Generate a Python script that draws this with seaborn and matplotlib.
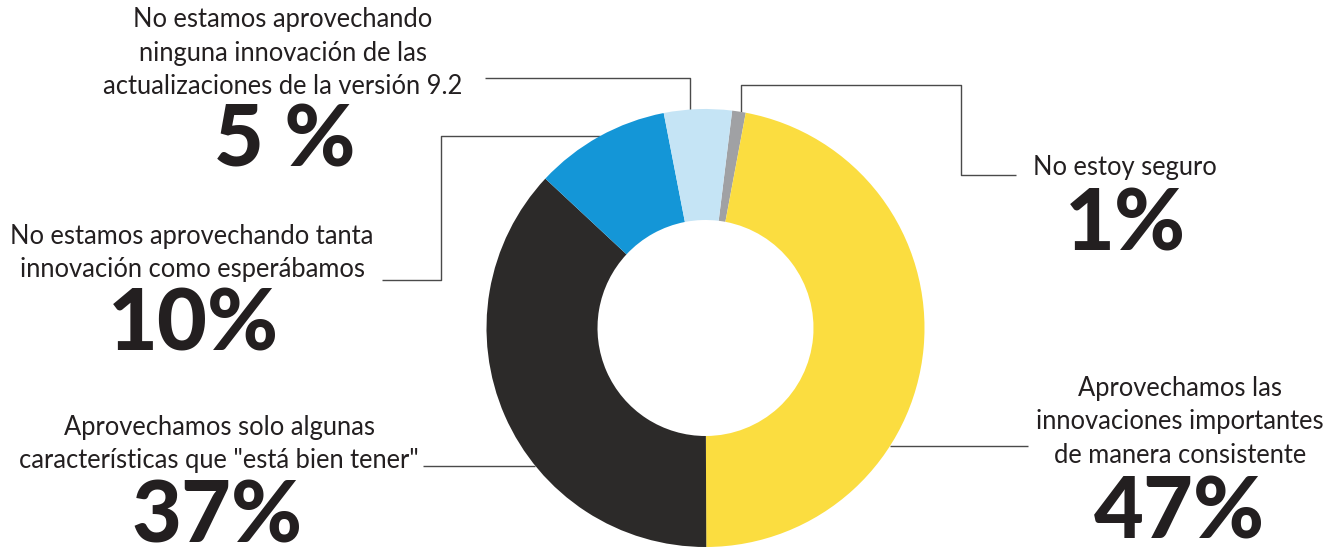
import matplotlib
matplotlib.use("Agg")
import matplotlib.pyplot as plt
import seaborn as sns

# ---- data ----
categories = [
    "No estoy seguro",
    "Aprovechamos las\ninnovaciones importantes\nde manera consistente",
    "Aprovechamos solo algunas\ncaracterísticas que \"está bien tener\"",
    "No estamos aprovechando tanta\ninnovación como esperábamos",
    "No estamos aprovechando\nninguna innovación de las\nactualizaciones de la versión 9.2",
]
values = [1, 47, 37, 10, 5]
value_labels = ["1%", "47%", "37%", "10%", "5 %"]
colors = ["#A0A1A4", "#FBDD40", "#2C2A29", "#1496D7", "#C5E4F5"]

sns.set_theme(style="white")
plt.rcParams["font.family"] = ["Lato", "DejaVu Sans"]

W, H = 1340, 551
fig = plt.figure(figsize=(W / 100, H / 100), dpi=100)
ax = fig.add_axes([0, 0, 1, 1])

def Y(y):
    return H - y

cx, cy, R = 705.5, 328, 219
ax.pie(values, colors=colors, startangle=83, counterclock=False,
       radius=R, center=(cx, Y(cy)),
       wedgeprops=dict(width=R - 108, edgecolor="none", linewidth=0))

for c in ax.patches:
    c.set_zorder(3)

lc = "#4a4a4a"
lw = 1.0
leaders = [
    [(741, 112), (741, 85), (961, 85), (961, 175), (1016, 175)],
    [(890, 446), (1028, 446)],
    [(535, 466), (423, 466)],
    [(600, 136), (441, 136), (441, 280), (382, 280)],
    [(690, 112), (690, 78), (485, 78)],
]
for pts in leaders:
    xs = [p[0] for p in pts]
    ys = [Y(p[1]) for p in pts]
    ax.plot(xs, ys, color=lc, lw=lw, zorder=2, solid_capstyle="butt")

txt = "#231F20"
label_pos = [(1125, 167), (1180, 422), (219, 444), (192, 253), (283, 53)]
num_pos = [(1125, 226), (1179, 514), (217, 518), (193, 326), (285, 142)]
for cat, (x, y) in zip(categories, label_pos):
    ax.text(x, Y(y), cat, ha="center", va="center", fontsize=18.4,
            color=txt, linespacing=1.42, zorder=5)
for lab, (x, y) in zip(value_labels, num_pos):
    ax.text(x, Y(y), lab, ha="center", va="center", fontsize=62,
            fontweight="black", color=txt, zorder=5)

ax.set_xlim(0, W)
ax.set_ylim(0, H)
ax.set_aspect("equal")
ax.axis("off")
fig.savefig("out.png", dpi=100, facecolor="white")
